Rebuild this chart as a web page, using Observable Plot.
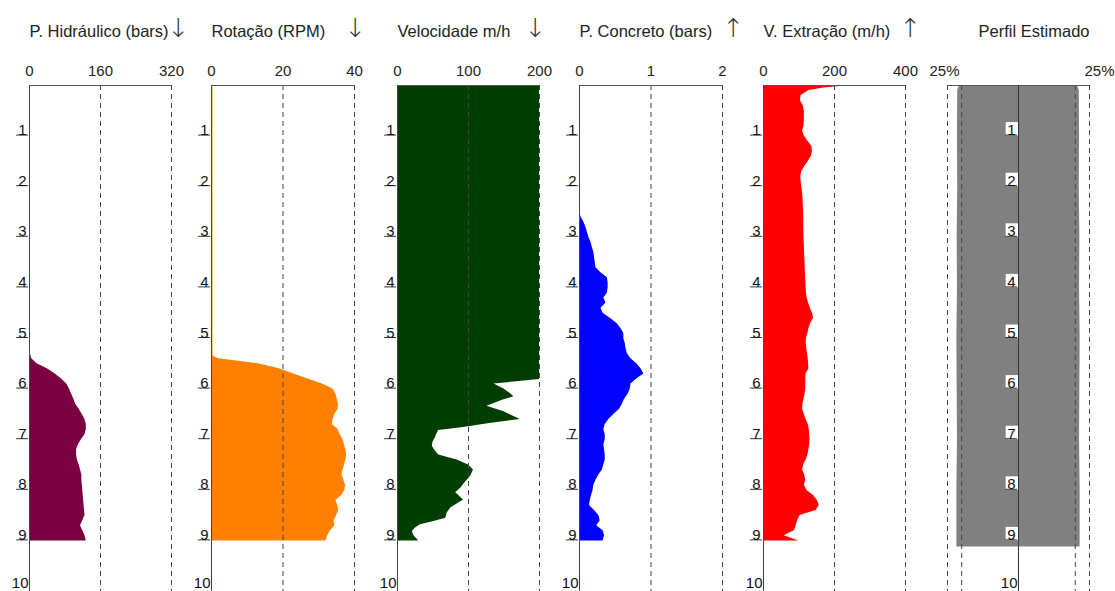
<!DOCTYPE html>
<html><head><meta charset="utf-8">
<script src="https://cdn.jsdelivr.net/npm/d3@7"></script>
<script src="https://cdn.jsdelivr.net/npm/@observablehq/plot@0.6"></script>
<style>
body{margin:0;background:#fff;}
#chart{position:relative;width:1115px;height:591px;overflow:hidden;font-family:"Liberation Sans",Arial,sans-serif;background:#fff;}
#chart svg{position:absolute;top:0;overflow:visible;}
</style></head><body><div id="chart"></div>
<script>
// ---- data: [depth (m), value] ----
const depthTicks = [1,2,3,4,5,6,7,8,9];
const bottomTick = [10];

const hidraulico = [[0,2],[5.3,2],[5.4,5],[5.5,17],[5.6,40],[5.7,58],[5.8,72],[5.9,84],[6.0,90],[6.1,95],[6.2,100],[6.3,104],[6.4,112],[6.5,119],[6.6,125],[6.7,128],[6.8,128],[6.9,125],[7.0,117],[7.1,110],[7.2,106],[7.3,106],[7.4,108],[7.5,112],[7.6,115],[7.7,118],[7.8,118],[7.9,119],[8.0,120],[8.1,121],[8.2,122],[8.3,123],[8.4,124],[8.5,125],[8.6,120],[8.7,115],[8.8,120],[8.9,125],[9.0,128]];

const rotacao = [[0,0.4],[5.35,0.4],[5.4,2],[5.5,13],[5.6,19],[5.7,23],[5.8,27],[5.9,31],[6.0,34],[6.1,34.8],[6.2,35.2],[6.3,35.5],[6.4,35.4],[6.5,34.5],[6.6,34],[6.7,33.8],[6.8,35.4],[6.9,36],[7.0,36.8],[7.1,37.2],[7.2,37.6],[7.3,37.8],[7.4,37.6],[7.5,37.2],[7.6,36.8],[7.7,36.5],[7.8,37],[7.9,37.5],[8.0,37.3],[8.1,36.5],[8.2,34.8],[8.3,35.3],[8.4,35.6],[8.5,35],[8.6,34.3],[8.7,34.5],[8.8,33.3],[8.9,32.5],[9.0,32]];

const velocidade = [[0,200],[5.81,200],[5.9,136],[6.0,150],[6.1,160],[6.15,164],[6.22,148],[6.34,126],[6.45,150],[6.6,173],[6.68,130],[6.76,93],[6.82,58],[6.9,55],[6.97,53],[7.05,50],[7.13,49],[7.22,53],[7.3,58],[7.4,84],[7.5,100],[7.6,107],[7.72,103],[7.85,95],[7.96,89],[8.05,82],[8.19,93],[8.27,84],[8.35,75],[8.45,70],[8.55,68],[8.62,50],[8.68,32],[8.75,25],[8.81,21],[8.9,23],[9.0,30]];

const concreto = [[0,0.008],[2.5,0.008],[2.6,0.02],[2.7,0.06],[2.8,0.09],[2.9,0.11],[3.0,0.13],[3.1,0.16],[3.2,0.18],[3.3,0.2],[3.4,0.21],[3.5,0.22],[3.6,0.23],[3.7,0.3],[3.8,0.39],[3.9,0.4],[4.0,0.4],[4.1,0.39],[4.2,0.34],[4.3,0.37],[4.4,0.3],[4.5,0.33],[4.6,0.43],[4.7,0.52],[4.8,0.58],[4.9,0.62],[5.0,0.62],[5.1,0.64],[5.2,0.65],[5.3,0.67],[5.4,0.72],[5.5,0.8],[5.6,0.86],[5.7,0.9],[5.8,0.8],[5.9,0.72],[6.0,0.71],[6.1,0.68],[6.2,0.63],[6.3,0.6],[6.4,0.56],[6.5,0.48],[6.6,0.41],[6.7,0.36],[6.8,0.34],[6.9,0.36],[7.0,0.36],[7.1,0.34],[7.2,0.35],[7.3,0.36],[7.4,0.36],[7.5,0.34],[7.6,0.32],[7.7,0.27],[7.8,0.23],[7.9,0.2],[8.0,0.19],[8.1,0.17],[8.2,0.15],[8.3,0.14],[8.4,0.21],[8.5,0.27],[8.6,0.29],[8.7,0.24],[8.8,0.33],[8.9,0.35],[9.0,0.33]];

const extracao = [[0,246],[0.05,170],[0.1,128],[0.2,106],[0.3,104],[0.4,112],[0.5,115],[0.6,115],[0.7,115],[0.8,114],[0.9,110],[1.0,115],[1.1,125],[1.2,136],[1.3,138],[1.4,135],[1.5,126],[1.6,116],[1.7,108],[1.8,105],[1.9,106],[2.0,108],[2.2,111],[2.5,113],[3.0,114],[3.5,117],[4.0,120],[4.1,121],[4.2,123],[4.3,127],[4.4,132],[4.5,138],[4.6,141],[4.7,133],[4.8,128],[4.9,125],[5.0,121],[5.1,120],[5.2,122],[5.3,124],[5.4,126],[5.5,127],[5.6,128],[5.7,120],[5.8,119],[5.9,119],[6.0,119],[6.1,117],[6.2,114],[6.3,111],[6.4,110],[6.5,115],[6.6,120],[6.7,126],[6.8,129],[6.9,130],[7.0,131],[7.1,130],[7.2,128],[7.3,125],[7.4,120],[7.5,113],[7.6,110],[7.7,116],[7.8,119],[7.9,115],[8.0,122],[8.1,140],[8.2,152],[8.3,157],[8.4,148],[8.5,103],[8.6,96],[8.7,92],[8.8,87],[8.9,58],[9.0,100]];

const perfil = [[0,20.3],[0.03,21.0],[0.1,21.4],[1,21.5],[2,21.4],[3,21.6],[4,21.5],[5,21.7],[6,21.6],[7,21.5],[8,21.7],[9,21.7],[9.12,21.7]];

const titles = ["P. Hidráulico (bars)","Rotação (RPM)","Velocidade m/h","P. Concreto (bars)","V. Extração (m/h)","Perfil Estimado"];
const arrows = ["↓","↓","↓","↑","↑",""];
const xTicks = [[0,160,320],[0,20,40],[0,100,200],[0,1,2],[0,200,400],[-25,-20,20,25]];
const colors = ["#7a0042","#ff8000","#003d00","#0000ff","#ff0000","#808080"];
const series = [hidraulico, rotacao, velocidade, concreto, extracao, perfil];

// ---- layout (pixels) ----
const frameX = [[29,171],[211,354],[397,539],[579,722],[763,905],[947,1089]];
const arrowDx = [7,1,-4,11,5,0];
const mL = 29, mR = 30, mT = 85;
const font = '"Liberation Sans",Arial,sans-serif';

const chart = document.getElementById("chart");

series.forEach((data, i) => {
  const [x0, x1] = frameX[i];
  const ticks = xTicks[i];
  const isProfile = i === 5;
  const domain = isProfile ? [-25, 25] : [ticks[0], ticks[ticks.length - 1]];
  const marks = [];
  if (isProfile) {
    marks.push(Plot.areaX(data, {y: d => d[0], x1: d => -d[1], x2: d => d[1], fill: colors[i]}));
    marks.push(Plot.ruleX(ticks, {stroke: "#444", strokeDasharray: "5,4"}));
  } else {
    marks.push(Plot.areaX(data, {y: d => d[0], x: d => d[1], fill: colors[i]}));
    marks.push(Plot.ruleX(ticks.filter(t => t !== 0), {stroke: "#444", strokeDasharray: "5,4"}));
  }
  marks.push(Plot.ruleY([0], {stroke: "#555"}));
  marks.push(Plot.text(depthTicks, {x: 0, y: d => d, text: d => String(d), textAnchor: "end", lineAnchor: "bottom", dx: -3, dy: -1, fontSize: 15, fill: "#111", className: "depthlbl"}));
  marks.push(Plot.text(bottomTick, {x: 0, y: d => d, text: d => String(d), textAnchor: "end", lineAnchor: "bottom", dx: -1, dy: -4, fontSize: 15, fill: "#111"}));
  marks.push(Plot.ruleX([0], {stroke: isProfile ? "#333" : "#444"}));
  // title + arrow
  marks.push(Plot.text([titles[i]], {frameAnchor: isProfile ? "top-right" : "top-left", textAnchor: isProfile ? "end" : "start", lineAnchor: "bottom", dy: -49, fontSize: 16.5, fill: "#222"}));
  if (arrows[i]) marks.push(Plot.text([arrows[i]], {frameAnchor: "top-right", textAnchor: "middle", lineAnchor: "bottom", dx: arrowDx[i], dy: -49, fontSize: 26, fontFamily: '"DejaVu Sans",sans-serif', fontWeight: 200, fill: "#333"}));
  if (isProfile) {
    marks.push(Plot.text([-25], {x: d => d, frameAnchor: "top", text: () => "25%", textAnchor: "middle", lineAnchor: "bottom", dx: -3, dy: -10, fontSize: 15, fill: "#222"}));
    marks.push(Plot.text([25], {x: d => d, frameAnchor: "top", text: () => "25%", textAnchor: "start", lineAnchor: "bottom", dx: -5, dy: -10, fontSize: 15, fill: "#222"}));
  }
  const width = (x1 - x0) + mL + mR;
  const plot = Plot.plot({
    width, height: 591,
    marginTop: mT, marginBottom: 0, marginLeft: mL, marginRight: mR,
    style: {fontFamily: font, fontSize: "15px", color: "#222", overflow: "visible", background: "transparent"},
    x: isProfile ? {domain, axis: null} : {domain, axis: "top", ticks, tickSize: 0, tickPadding: 10, label: null, tickFormat: d => String(d)},
    y: {domain: [0, 10], reverse: true, axis: null},
    marks
  });
  plot.style.left = (x0 - mL) + "px";
  chart.appendChild(plot);

  // decorate depth labels: underline tick and white background box
  const xs = plot.scale("x"), ys = plot.scale("y");
  const axisX = xs.apply(0);
  const svgRect = plot.getBoundingClientRect();
  const g = plot.querySelector("g.depthlbl");
  if (g) {
    const deco = document.createElementNS("http://www.w3.org/2000/svg", "g");
    g.parentNode.insertBefore(deco, g);
    [...g.querySelectorAll("text")].forEach((t, k) => {
      const r = t.getBoundingClientRect();
      const left = r.left - svgRect.left;
      const top = r.top - svgRect.top;
      const ty = ys.apply(depthTicks[k]);
      const rect = document.createElementNS("http://www.w3.org/2000/svg", "rect");
      rect.setAttribute("x", left - 1.5);
      rect.setAttribute("y", top + 1);
      rect.setAttribute("width", axisX - (left - 1.5));
      rect.setAttribute("height", Math.max(0, ty - top - 1));
      rect.setAttribute("fill", "#fff");
      deco.appendChild(rect);
      const ln = document.createElementNS("http://www.w3.org/2000/svg", "line");
      ln.setAttribute("x1", left - 2);
      ln.setAttribute("x2", axisX - 1);
      ln.setAttribute("y1", ty - 0.5);
      ln.setAttribute("y2", ty - 0.5);
      ln.setAttribute("stroke", "#333");
      ln.setAttribute("stroke-width", 1);
      deco.appendChild(ln);
    });
  }
});
</script></body></html>
